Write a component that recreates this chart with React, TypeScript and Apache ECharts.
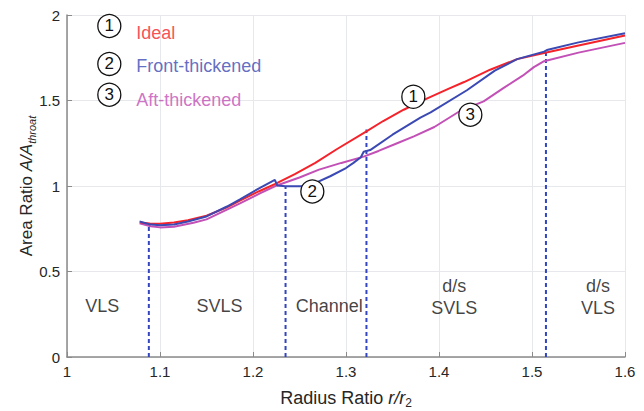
import React, { useEffect, useRef } from "react";
import * as echarts from "echarts";

// Radius ratio r/r2 vs area ratio A/A_throat
const idealX = [1.079, 1.089, 1.1, 1.115, 1.13, 1.15, 1.172, 1.186, 1.206, 1.224, 1.245, 1.267, 1.29, 1.322, 1.34, 1.362, 1.388, 1.41, 1.427, 1.455, 1.484, 1.513, 1.55, 1.6];
const idealY = [0.786, 0.781, 0.779, 0.786, 0.8, 0.826, 0.875, 0.915, 0.968, 1.012, 1.07, 1.135, 1.215, 1.32, 1.38, 1.446, 1.514, 1.568, 1.608, 1.68, 1.742, 1.778, 1.822, 1.88];

const frontX = [1.078, 1.088, 1.1, 1.115, 1.13, 1.15, 1.172, 1.186, 1.206, 1.2235, 1.226, 1.235, 1.252, 1.265, 1.283, 1.3, 1.308, 1.316, 1.319, 1.326, 1.35, 1.38, 1.391, 1.43, 1.46, 1.484, 1.513, 1.516, 1.55, 1.6];
const frontY = [0.792, 0.777, 0.77, 0.775, 0.792, 0.822, 0.88, 0.922, 0.985, 1.036, 1.003, 0.999, 0.999, 1.012, 1.057, 1.105, 1.135, 1.168, 1.2, 1.21, 1.3, 1.4, 1.43, 1.56, 1.675, 1.742, 1.786, 1.795, 1.84, 1.893];

const aftX = [1.078, 1.09, 1.1, 1.115, 1.136, 1.15, 1.172, 1.186, 1.208, 1.224, 1.25, 1.271, 1.295, 1.319, 1.335, 1.355, 1.373, 1.395, 1.423, 1.448, 1.47, 1.49, 1.502, 1.513, 1.55, 1.6];
const aftY = [0.782, 0.765, 0.758, 0.762, 0.785, 0.805, 0.862, 0.898, 0.958, 1.0, 1.05, 1.096, 1.135, 1.172, 1.205, 1.25, 1.29, 1.345, 1.44, 1.495, 1.575, 1.645, 1.695, 1.73, 1.78, 1.837];

// region boundaries (dashed)
const boundaryX = [1.088, 1.235, 1.322, 1.515];
const boundaryTop = [0.776, 1.0, 1.33, 1.79];

// region labels
const regionNames = ["VLS", "SVLS", "Channel", "d/s\nSVLS", "d/s\nVLS"];
const regionX = [1.038, 1.164, 1.282, 1.4165, 1.571];
const regionY = [0.297, 0.297, 0.297, 0.353, 0.353];

// legend
const legendNums = ["1", "2", "3"];
const legendNames = ["Ideal", "Front-thickened", "Aft-thickened"];
const legendCircleX = 1.0455;
const legendCircleY = [1.936, 1.714, 1.534];
const legendTextX = 1.0745;
const legendTextY = [1.895, 1.704, 1.504];

// numbered callouts on curves
const calloutNums = ["1", "2", "3"];
const calloutX = [1.3724, 1.2638, 1.4337];
const calloutY = [1.522, 0.968, 1.417];

const colors = ["#f5222a", "#3a49b3", "#c250b6"];
const dashColor = "#3346c0";

const zip = (xs: number[], ys: number[]) => xs.map((x, i) => [x, ys[i]]);

export default function App() {
  const ref = useRef<HTMLDivElement>(null);
  useEffect(() => {
    if (!ref.current) return;
    const chart = echarts.init(ref.current, undefined, { renderer: "svg" });
    const font = "Liberation Sans, Arial, sans-serif";
    const circleStyle = {
      type: "scatter",
      symbol: "circle",
      symbolSize: 23,
      itemStyle: { color: "#fff", borderColor: "#111", borderWidth: 1.3, opacity: 1 },
      label: {
        show: true,
        position: "inside",
        formatter: (p: any) => p.name,
        color: "#111",
        fontSize: 17,
        fontFamily: font,
      },
      z: 5,
      silent: true,
    };
    const option: any = {
      animation: false,
      backgroundColor: "#fff",
      textStyle: { fontFamily: font },
      grid: { left: 67, right: 19, top: 15, bottom: 54, outerBoundsMode: "none", containLabel: false },
      xAxis: {
        type: "value",
        min: 1,
        max: 1.6,
        interval: 0.1,
        axisLine: { show: true, lineStyle: { color: "#8a8a8a", width: 1.5 } },
        axisTick: { show: true, inside: true, length: 5, lineStyle: { color: "#8a8a8a" } },
        axisLabel: {
          color: "#262626",
          fontSize: 15,
          fontFamily: font,
          margin: 7,
          formatter: (v: number) => String(Math.round(v * 10) / 10),
        },
        splitLine: { show: true, lineStyle: { color: "#e6e8ec", width: 1 } },
        name: "{a|Radius Ratio }{b|r/r}{c|2}",
        nameLocation: "middle",
        nameGap: 29,
        nameMoveOverlap: false,
        nameTextStyle: {
          rich: {
            a: { fontSize: 18, color: "#262626", fontFamily: font, lineHeight: 23 },
            b: { fontSize: 18, color: "#262626", fontFamily: font, fontStyle: "italic", lineHeight: 23 },
            c: { fontSize: 12, color: "#262626", fontFamily: font, lineHeight: 12, verticalAlign: "bottom" },
          },
        },
      },
      yAxis: {
        type: "value",
        min: 0,
        max: 2,
        interval: 0.5,
        axisLine: { show: true, lineStyle: { color: "#8a8a8a", width: 1.5 } },
        axisTick: { show: true, inside: true, length: 5, lineStyle: { color: "#8a8a8a" } },
        axisLabel: {
          color: "#262626",
          fontSize: 15,
          fontFamily: font,
          margin: 7,
          formatter: (v: number) => String(Math.round(v * 10) / 10),
        },
        splitLine: { show: true, lineStyle: { color: "#e6e8ec", width: 1 } },
        name: "{a|Area Ratio }{b|A/A}{c|throat}",
        nameLocation: "middle",
        nameRotate: 90,
        nameGap: 30,
        nameMoveOverlap: false,
        nameTextStyle: {
          rich: {
            a: { fontSize: 17, color: "#262626", fontFamily: font, lineHeight: 22 },
            b: { fontSize: 17, color: "#262626", fontFamily: font, fontStyle: "italic", lineHeight: 22 },
            c: { fontSize: 11, color: "#262626", fontFamily: font, fontStyle: "italic", lineHeight: 12, verticalAlign: "bottom" },
          },
        },
      },
      series: [
        ...boundaryX.map((bx, i) => ({
          type: "line",
          data: [[bx, 0], [bx, boundaryTop[i]]],
          showSymbol: false,
          symbol: "none",
          lineStyle: { color: dashColor, width: 2, type: [4, 3] },
          z: 2,
          silent: true,
        })),
        {
          type: "line",
          name: legendNames[2],
          data: zip(aftX, aftY),
          showSymbol: false,
          symbol: "none",
          lineStyle: { color: colors[2], width: 2 },
          z: 3,
        },
        {
          type: "line",
          name: legendNames[0],
          data: zip(idealX, idealY),
          showSymbol: false,
          symbol: "none",
          lineStyle: { color: colors[0], width: 2 },
          z: 3,
        },
        {
          type: "line",
          name: legendNames[1],
          data: zip(frontX, frontY),
          showSymbol: false,
          symbol: "none",
          lineStyle: { color: colors[1], width: 2 },
          z: 3,
        },
        {
          ...circleStyle,
          data: calloutNums.map((n, i) => ({ name: n, value: [calloutX[i], calloutY[i]] })),
        },
        {
          ...circleStyle,
          data: legendNums.map((n, i) => ({ name: n, value: [legendCircleX, legendCircleY[i]] })),
        },
        {
          type: "scatter",
          symbolSize: 0,
          silent: true,
          z: 5,
          data: legendNames.map((n, i) => ({
            name: n,
            value: [legendTextX, legendTextY[i]],
            label: { color: colors[i] },
          })),
          label: {
            show: true,
            position: "inside",
            align: "left",
            verticalAlign: "middle",
            formatter: (p: any) => p.name,
            fontSize: 18,
            fontFamily: font,
          },
        },
        {
          type: "scatter",
          symbolSize: 0,
          silent: true,
          z: 5,
          data: regionNames.map((n, i) => ({ name: n, value: [regionX[i], regionY[i]] })),
          label: {
            show: true,
            position: "inside",
            align: "center",
            verticalAlign: "middle",
            formatter: (p: any) => p.name,
            fontSize: 18,
            lineHeight: 22,
            color: "#111",
            fontFamily: font,
          },
        },
      ],
    };
    chart.setOption(option);
    return () => chart.dispose();
  }, []);
  return <div ref={ref} style={{ position: "fixed", left: 0, top: 0, width: 644, height: 411 }} />;
}
